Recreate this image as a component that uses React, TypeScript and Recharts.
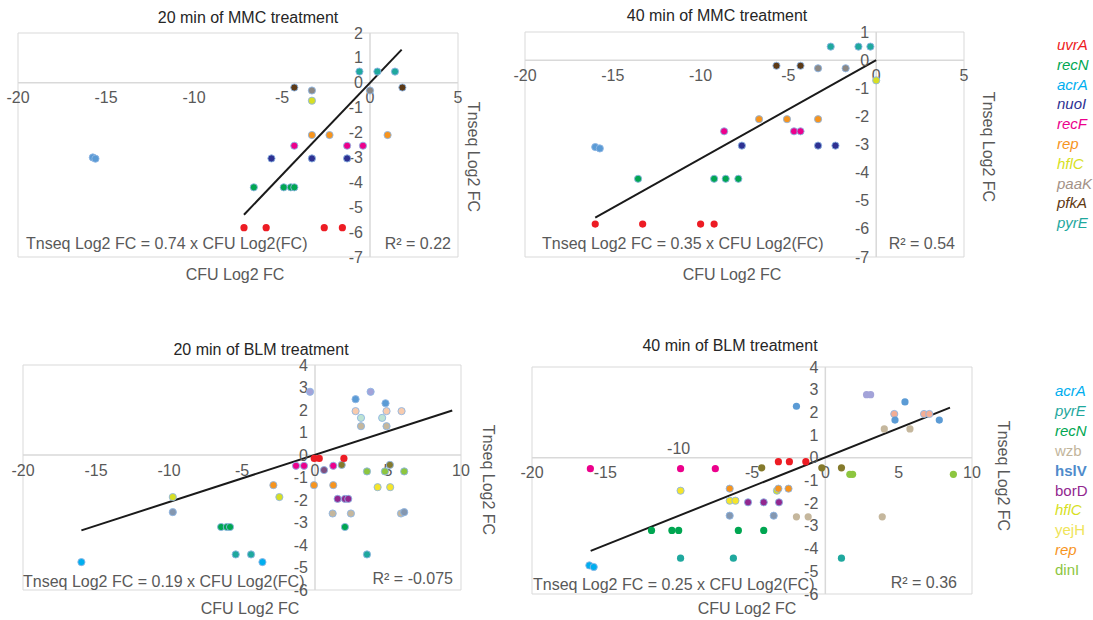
import React from "react";
import {
  ScatterChart,
  Scatter,
  XAxis,
  YAxis,
  ReferenceLine,
  ReferenceArea,
  ReferenceDot,
} from "recharts";

type XY = [number, number];

// axis ticks
const MMC_X_TICKS = [-20, -15, -10, -5, 0, 5];
const MMC20_Y_TICKS = [-7, -6, -5, -4, -3, -2, -1, 0, 1, 2];
const MMC40_Y_TICKS = [-7, -6, -5, -4, -3, -2, -1, 0, 1];
const BLM_X_TICKS = [-20, -15, -10, -5, 0, 5, 10];
const BLM_Y_TICKS = [-6, -5, -4, -3, -2, -1, 0, 1, 2, 3, 4];

// legends
const MMC_LEGEND = ["uvrA", "recN", "acrA", "nuoI", "recF", "rep", "hflC", "paaK", "pfkA", "pyrE"];
const BLM_LEGEND = ["acrA", "pyrE", "recN", "wzb", "hslV", "borD", "hflC", "yejH", "rep", "dinI"];

// 20 min MMC (CFU log2 FC, Tnseq log2 FC)
const MMC20_POINTS: [string, XY[]][] = [
  ["uvrA", [[-7.16, -5.82], [-5.9, -5.82], [-2.6, -5.82], [-1.57, -5.82]]],
  ["recN", [[-6.6, -4.2], [-4.9, -4.2], [-4.5, -4.2], [-4.3, -4.2]]],
  ["acrA", [[-15.75, -3.0], [-15.6, -3.05]]],
  ["nuoI", [[-5.6, -3.04], [-3.3, -3.04], [-1.3, -3.04]]],
  ["recF", [[-4.3, -2.53], [-1.3, -2.53], [-0.4, -2.53]]],
  ["rep", [[-3.3, -2.1], [-2.3, -2.1], [1.0, -2.1]]],
  ["hflC", [[-3.3, -0.72]]],
  ["paaK", [[-3.3, -0.31], [0, -0.31]]],
  ["pfkA", [[-4.3, -0.19], [1.84, -0.19]]],
  ["pyrE", [[-0.6, 0.45], [0.42, 0.45], [1.42, 0.45]]],
];
const MMC20_TREND: XY[] = [[-7.16, -5.3], [1.8, 1.33]];

// 40 min MMC
const MMC40_POINTS: [string, XY[]][] = [
  ["uvrA", [[-16.0, -5.83], [-13.3, -5.83], [-10.0, -5.83], [-9.23, -5.83]]],
  ["recN", [[-13.56, -4.22], [-9.23, -4.22], [-8.57, -4.22], [-7.85, -4.22]]],
  ["acrA", [[-16.0, -3.09], [-15.74, -3.14]]],
  ["nuoI", [[-7.65, -3.04], [-3.31, -3.04], [-2.32, -3.04]]],
  ["recF", [[-8.66, -2.53], [-4.68, -2.53], [-4.31, -2.53]]],
  ["rep", [[-6.67, -2.1], [-5.08, -2.1], [-3.31, -2.1]]],
  ["hflC", [[0, -0.72]]],
  ["paaK", [[-3.31, -0.29], [-1.74, -0.29]]],
  ["pfkA", [[-5.68, -0.2], [-4.31, -0.2]]],
  ["pyrE", [[-2.59, 0.48], [-1.01, 0.48], [-0.33, 0.48]]],
];
const MMC40_TREND: XY[] = [[-16.0, -5.6], [0, 0]];

// 20 min BLM
const BLM20_POINTS: [string, XY[]][] = [
  ["acrA", [[-16.0, -4.76], [-3.6, -4.76]]],
  ["pyrE", [[-5.43, -4.42], [-4.38, -4.42], [3.56, -4.42]]],
  ["recN", [[-6.43, -3.2], [-6.04, -3.2], [-5.82, -3.2], [2.05, -3.2]]],
  ["wzb", [[1.21, -2.6], [2.46, -2.6], [5.89, -2.6], [3.15, 1.28], [4.9, 1.28]]],
  ["slate", [[-9.74, -2.54], [6.11, -2.54]]],
  ["borD", [[1.55, -1.95], [2.05, -1.95], [2.28, -1.95]]],
  ["hflC", [[-9.74, -1.87], [-2.44, -1.87]]],
  ["yejH", [[4.29, -1.43], [5.15, -1.43]]],
  ["rep", [[-2.85, -1.34], [-0.07, -1.34], [1.25, -1.34]]],
  ["dinI", [[3.56, -0.73], [4.79, -0.73], [6.11, -0.73]]],
  ["plum", [[0.62, -0.67]]],
  ["olive", [[1.83, -0.44], [5.13, -0.44]]],
  ["magenta", [[-1.3, -0.48], [-0.75, -0.48], [1.25, -0.48]]],
  ["red", [[-0.05, -0.15], [0.29, -0.15], [1.98, -0.15]]],
  ["mint", [[3.15, 1.65], [4.6, 1.65]]],
  ["pink", [[2.78, 1.95], [4.9, 1.95], [5.93, 1.95]]],
  ["hslV", [[2.78, 2.48], [4.83, 2.3]]],
  ["lavender", [[-0.34, 2.81], [3.81, 2.81]]],
];
const BLM20_TREND: XY[] = [[-16.0, -3.35], [9.4, 1.98]];

// 40 min BLM
const BLM40_POINTS: [string, XY[]][] = [
  ["acrA", [[-16.09, -4.74], [-15.79, -4.81]]],
  ["pyrE", [[-9.87, -4.42], [-6.27, -4.42], [1.1, -4.42]]],
  ["recN", [[-11.85, -3.2], [-10.46, -3.2], [-10.0, -3.2], [-5.93, -3.2], [-4.2, -3.2]]],
  ["wzb", [[-1.97, -2.6], [-1.17, -2.6], [3.88, -2.6], [4.02, 1.27], [5.77, 1.27]]],
  ["slate", [[-6.52, -2.55], [-3.52, -2.55]]],
  ["borD", [[-5.27, -1.96], [-4.2, -1.96], [-3.16, -1.96]]],
  ["hflC", [[-3.3, -1.45]]],
  ["yejH", [[-6.52, -1.89], [-6.13, -1.89], [-9.87, -1.45]]],
  ["rep", [[-6.52, -1.36], [-3.2, -1.36], [-2.51, -1.36]]],
  ["dinI", [[1.67, -0.73], [1.86, -0.73], [8.73, -0.73]]],
  ["olive", [[-4.34, -0.44], [-0.24, -0.44], [1.1, -0.44]]],
  ["magenta", [[-16.02, -0.48], [-9.87, -0.48], [-7.5, -0.48]]],
  ["red", [[-3.2, -0.17], [-2.45, -0.17], [-1.33, -0.17]]],
  ["salmon", [[4.7, 1.93], [6.73, 1.93], [7.09, 1.93]]],
  ["hslV", [[-1.97, 2.27], [5.43, 2.46], [4.75, 1.66], [7.77, 1.66]]],
  ["lavender", [[2.81, 2.78], [3.09, 2.78]]],
];
const BLM40_TREND: XY[] = [[-16.0, -4.1], [8.5, 2.21]];

const COLORS: Record<string, string> = {
  uvrA: "#ed1c24",
  recN: "#00a651",
  acrA: "#00aeef",
  nuoI: "#2e3192",
  recF: "#ec008c",
  rep: "#f7941d",
  hflC: "#d7df23",
  paaK: "#8c8884",
  pfkA: "#5c3a17",
  pyrE: "#1fa89e",
  wzb: "#c5b79d",
  hslV: "#5b9bd5",
  borD: "#92278f",
  yejH: "#f5e52a",
  dinI: "#8dc63f",
  red: "#ed1c24",
  magenta: "#ec008c",
  olive: "#857a2c",
  plum: "#7f4f80",
  slate: "#8497b0",
  mint: "#bde3d3",
  pink: "#f8cbad",
  salmon: "#f4ad94",
  lavender: "#a3a3d9",
};

// MMC panels draw acrA in a steel blue
const MMC_COLORS: Record<string, string> = { ...COLORS, acrA: "#5b9bd5" };

const LEGEND_COLORS: Record<string, string> = {
  ...COLORS,
  paaK: "#a39287",
  pfkA: "#603913",
  hslV: "#4f8bcb",
  wzb: "#c2b59b",
  yejH: "#efe45a",
};

const BLM_ITALIC = ["acrA", "pyrE", "recN", "hflC", "rep"];
const FONT = '"Liberation Sans", Arial, sans-serif';
const GRAY = "#595959";

type PanelProps = {
  left: number;
  top: number;
  width: number;
  height: number;
  margin: { top: number; right: number; bottom: number; left: number };
  xDomain: [number, number];
  yDomain: [number, number];
  xTicks: number[];
  yTicks: number[];
  points: [string, XY[]][];
  palette: Record<string, string>;
  outlined: string[];
  trend: XY[];
  raisedTicks?: number[];
};

const xTickShape = (t: number, raised: boolean) => (p: any) => (
  <text
    x={p.cx}
    y={raised ? p.cy - 9 : p.cy + 15}
    textAnchor="middle"
    dominantBaseline="central"
    fill={GRAY}
    fontSize={16}
    fontFamily={FONT}
  >
    {t}
  </text>
);

const yTickShape = (t: number) => (p: any) => (
  <text
    x={p.cx - 7}
    y={p.cy}
    textAnchor="end"
    dominantBaseline="central"
    fill={GRAY}
    fontSize={16}
    fontFamily={FONT}
  >
    {t}
  </text>
);

const dotShape = (fill: string, outline: boolean) => (p: any) => (
  <circle
    cx={p.cx}
    cy={p.cy}
    r={3.6}
    fill={fill}
    stroke={outline ? "#8fb6e3" : "none"}
    strokeWidth={0.9}
  />
);

function Panel(p: PanelProps) {
  const [x0, x1] = p.xDomain;
  const [y0, y1] = p.yDomain;
  const raised = p.raisedTicks ?? [];
  return (
    <div style={{ position: "absolute", left: p.left, top: p.top }}>
      <ScatterChart width={p.width} height={p.height} margin={p.margin}>
        <XAxis type="number" dataKey="x" domain={p.xDomain} ticks={p.xTicks} allowDataOverflow hide />
        <YAxis type="number" dataKey="y" domain={p.yDomain} ticks={p.yTicks} allowDataOverflow hide />
        <ReferenceArea x1={x0} x2={x1} y1={y0} y2={y1} fill="none" stroke="#d9d9d9" strokeWidth={1} />
        <ReferenceLine x={0} stroke="#d9d9d9" strokeWidth={1.5} />
        <ReferenceLine y={0} stroke="#d9d9d9" strokeWidth={1.5} />
        {p.xTicks.map((t) => (
          <ReferenceDot key={"xt" + t} x={t} y={0} r={0} shape={xTickShape(t, raised.includes(t))} />
        ))}
        {p.yTicks.map((t) => (
          <ReferenceDot key={"yt" + t} x={0} y={t} r={0} shape={yTickShape(t)} />
        ))}
        <ReferenceLine
          segment={[
            { x: p.trend[0][0], y: p.trend[0][1] },
            { x: p.trend[1][0], y: p.trend[1][1] },
          ]}
          stroke="#1a1a1a"
          strokeWidth={2}
        />
        {p.points.map(([gene, pts]) => (
          <Scatter
            key={gene}
            name={gene}
            data={pts.map(([x, y]) => ({ x, y }))}
            shape={dotShape(p.palette[gene], p.outlined.includes(gene))}
            isAnimationActive={false}
          />
        ))}
      </ScatterChart>
    </div>
  );
}

const abs = (s: React.CSSProperties): React.CSSProperties => ({
  position: "absolute",
  whiteSpace: "nowrap",
  lineHeight: "20px",
  fontSize: 16,
  color: GRAY,
  ...s,
});

function Texts(props: {
  title: string;
  tx: number;
  ty: number;
  eq: string;
  ex: number;
  ey: number;
  r2: string;
  rx: number;
  ry: number;
  cx: number;
  cy: number;
  vx: number;
  vy: number;
}) {
  const t = props;
  return (
    <>
      <div style={abs({ left: t.tx, top: t.ty - 10, transform: "translateX(-50%)", color: "#262626" })}>{t.title}</div>
      <div style={abs({ left: t.ex, top: t.ey - 10 })}>{t.eq}</div>
      <div style={abs({ left: t.rx, top: t.ry - 10, transform: "translateX(-100%)" })}>{t.r2}</div>
      <div style={abs({ left: t.cx, top: t.cy - 10, transform: "translateX(-50%)" })}>CFU Log2 FC</div>
      <div style={abs({ left: t.vx, top: t.vy, transform: "translate(-50%, -50%) rotate(90deg)" })}>Tnseq Log2 FC</div>
    </>
  );
}

const MMC_OUTLINED = MMC_LEGEND.filter((g) => g !== "uvrA");
const ALL_BLM = ["acrA", "pyrE", "recN", "wzb", "slate", "borD", "hflC", "yejH", "rep", "dinI", "plum", "olive", "magenta", "mint", "pink", "hslV", "lavender"];
const BLM40_OUTLINED = ["acrA", "slate", "borD", "yejH", "rep", "salmon", "hflC"];

export default function App() {
  return (
    <div style={{ position: "relative", width: 1093, height: 620, fontFamily: FONT, background: "#fff" }}>
      <style>{"body{margin:0}"}</style>
      <Panel
        left={0}
        top={0}
        width={480}
        height={290}
        margin={{ top: 33, left: 18, right: 22, bottom: 33 }}
        xDomain={[-20, 5]}
        yDomain={[-7, 2]}
        xTicks={MMC_X_TICKS}
        yTicks={MMC20_Y_TICKS}
        points={MMC20_POINTS}
        palette={MMC_COLORS}
        outlined={MMC_OUTLINED}
        trend={MMC20_TREND}
      />
      <Texts
        title="20 min of MMC treatment"
        tx={248}
        ty={18}
        eq="Tnseq Log2 FC = 0.74 x CFU Log2(FC)"
        ex={26}
        ey={244}
        r2="R² = 0.22"
        rx={451}
        ry={244}
        cx={235}
        cy={275}
        vx={473}
        vy={157}
      />
      <Panel
        left={500}
        top={0}
        width={500}
        height={290}
        margin={{ top: 32, left: 25, right: 36, bottom: 33 }}
        xDomain={[-20, 5]}
        yDomain={[-7, 1]}
        xTicks={MMC_X_TICKS}
        yTicks={MMC40_Y_TICKS}
        points={MMC40_POINTS}
        palette={MMC_COLORS}
        outlined={MMC_OUTLINED}
        trend={MMC40_TREND}
      />
      <Texts
        title="40 min of MMC treatment"
        tx={717}
        ty={16}
        eq="Tnseq Log2 FC = 0.35 x CFU Log2(FC)"
        ex={542}
        ey={244}
        r2="R² = 0.54"
        rx={955}
        ry={244}
        cx={732}
        cy={275}
        vx={988}
        vy={147}
      />
      <Panel
        left={0}
        top={330}
        width={500}
        height={290}
        margin={{ top: 35, left: 23, right: 39, bottom: 30 }}
        xDomain={[-20, 10]}
        yDomain={[-6, 4]}
        xTicks={BLM_X_TICKS}
        yTicks={BLM_Y_TICKS}
        points={BLM20_POINTS}
        palette={COLORS}
        outlined={ALL_BLM}
        trend={BLM20_TREND}
      />
      <Texts
        title="20 min of BLM treatment"
        tx={261}
        ty={350}
        eq="Tnseq Log2 FC = 0.19 x CFU Log2(FC)"
        ex={23}
        ey={582}
        r2="R² = -0.075"
        rx={453}
        ry={579}
        cx={250}
        cy={609}
        vx={488}
        vy={480}
      />
      <Panel
        left={500}
        top={330}
        width={500}
        height={290}
        margin={{ top: 37, left: 32, right: 28, bottom: 26 }}
        xDomain={[-20, 10]}
        yDomain={[-6, 4]}
        xTicks={BLM_X_TICKS}
        yTicks={BLM_Y_TICKS}
        points={BLM40_POINTS}
        palette={COLORS}
        outlined={BLM40_OUTLINED}
        trend={BLM40_TREND}
        raisedTicks={[-10]}
      />
      <Texts
        title="40 min of BLM treatment"
        tx={730}
        ty={346}
        eq="Tnseq Log2 FC = 0.25 x CFU Log2(FC)"
        ex={533}
        ey={585}
        r2="R² = 0.36"
        rx={957}
        ry={583}
        cx={747}
        cy={609}
        vx={1003}
        vy={476}
      />
      {MMC_LEGEND.map((g, i) => (
        <div
          key={"ml" + g}
          style={abs({ left: 1057, top: 45 + i * 19.8 - 10, fontSize: 15, fontStyle: "italic", color: LEGEND_COLORS[g] })}
        >
          {g}
        </div>
      ))}
      {BLM_LEGEND.map((g, i) => (
        <div
          key={"bl" + g}
          style={abs({
            left: 1055,
            top: 391 + i * 19.9 - 10,
            fontSize: 15,
            fontStyle: BLM_ITALIC.includes(g) ? "italic" : "normal",
            fontWeight: g === "hslV" ? "bold" : "normal",
            color: LEGEND_COLORS[g],
          })}
        >
          {g}
        </div>
      ))}
    </div>
  );
}
